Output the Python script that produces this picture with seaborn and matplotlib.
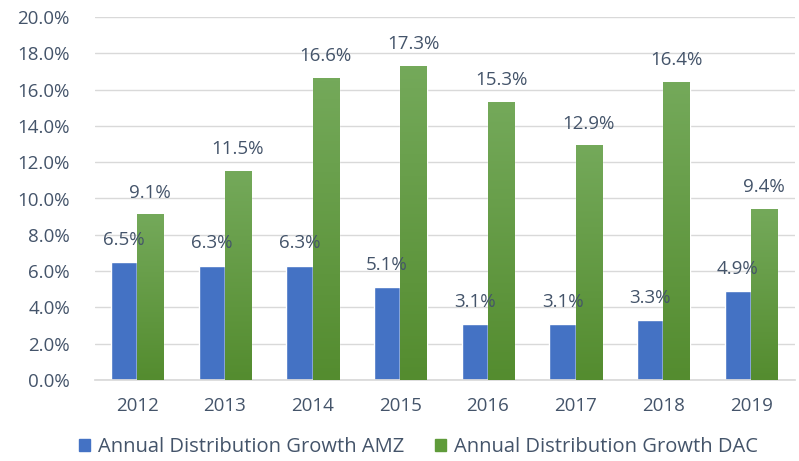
import numpy as np
import pandas as pd
import seaborn as sns
import matplotlib.pyplot as plt
from matplotlib.colors import LinearSegmentedColormap
from matplotlib.patches import Patch
from matplotlib.ticker import PercentFormatter

years = ["2012", "2013", "2014", "2015", "2016", "2017", "2018", "2019"]
amz = [6.5, 6.3, 6.3, 5.1, 3.1, 3.1, 3.3, 4.9]
dac = [9.1, 11.5, 16.6, 17.3, 15.3, 12.9, 16.4, 9.4]
series = ["Annual Distribution Growth AMZ", "Annual Distribution Growth DAC"]

BLUE = "#4472C4"
GREEN = "#5F9B3A"
TEXT = "#44546A"

df = pd.DataFrame({
    "year": years * 2,
    "value": amz + dac,
    "series": [series[0]] * len(years) + [series[1]] * len(years),
})

sns.set_theme(style="white")
plt.rcParams["font.family"] = ["Open Sans", "DejaVu Sans"]

fig = plt.figure(figsize=(7.99, 4.61), dpi=100)
ax = fig.add_axes([95 / 799, 81 / 461, 700 / 799, 363 / 461])

sns.barplot(data=df, x="year", y="value", hue="series", order=years,
            hue_order=series, palette=[BLUE, GREEN], width=0.6,
            saturation=1, legend=False, ax=ax, zorder=2)

# green bars get a light-to-dark vertical gradient
grad = LinearSegmentedColormap.from_list("g", ["#548C2F", "#74A95A"])
for patch in ax.containers[1]:
    x0, w, h = patch.get_x(), patch.get_width(), patch.get_height()
    ax.imshow(np.linspace(0, 1, 100).reshape(-1, 1), cmap=grad,
              extent=[x0, x0 + w, 0, h], origin="lower", aspect="auto", zorder=3)

for cont, vals in zip(ax.containers, [amz, dac]):
    for patch, v in zip(cont, vals):
        ax.annotate(f"{v:.1f}%", (patch.get_x() + patch.get_width() / 2, v),
                    xytext=(0, 16), textcoords="offset points",
                    ha="center", va="center", fontsize=13.5, color=TEXT)

ax.set_xlim(-0.48, 7.5)
ax.set_ylim(0, 20)
ax.set_yticks(np.arange(0, 21, 2))
ax.yaxis.set_major_formatter(PercentFormatter(decimals=1))
ax.grid(axis="y", color="#D9D9D9", linewidth=1, zorder=0)
ax.set_axisbelow(True)
ax.set_xlabel("")
ax.set_ylabel("")
for s in ["top", "right", "left"]:
    ax.spines[s].set_visible(False)
ax.spines["bottom"].set_color("#D9D9D9")
ax.tick_params(axis="both", length=0, labelsize=13.5, labelcolor=TEXT)
ax.tick_params(axis="x", pad=12)
ax.tick_params(axis="y", pad=18)

handles = [Patch(color=BLUE), Patch(color=GREEN)]
fig.legend(handles, series, loc="center", ncol=2, frameon=False,
           bbox_to_anchor=(0.524, 0.03), fontsize=14.5, labelcolor=TEXT,
           handlelength=0.55, handleheight=0.55, handletextpad=0.4,
           columnspacing=1.5)

fig.savefig("out.png", dpi=100)
